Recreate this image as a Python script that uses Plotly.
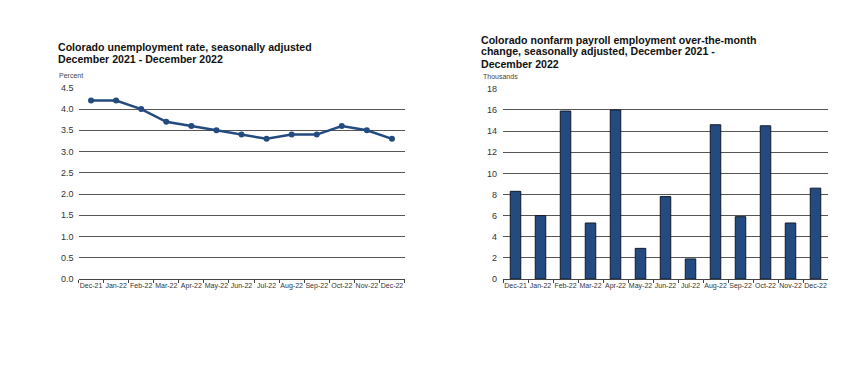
import plotly.graph_objects as go

months = ["Dec-21", "Jan-22", "Feb-22", "Mar-22", "Apr-22", "May-22", "Jun-22",
          "Jul-22", "Aug-22", "Sep-22", "Oct-22", "Nov-22", "Dec-22"]
unemployment_rate = [4.2, 4.2, 4.0, 3.7, 3.6, 3.5, 3.4, 3.3, 3.4, 3.4, 3.6, 3.5, 3.3]
payroll_change = [8.3, 6.0, 15.9, 5.3, 16.0, 2.9, 7.8, 1.9, 14.6, 5.9, 14.5, 5.3, 8.6]
left_yticks = [0.0, 0.5, 1.0, 1.5, 2.0, 2.5, 3.0, 3.5, 4.0, 4.5]
right_yticks = [0, 2, 4, 6, 8, 10, 12, 14, 16, 18]
left_title = ["Colorado unemployment rate, seasonally adjusted",
              "December 2021 - December 2022"]
right_title = ["Colorado nonfarm payroll employment over-the-month",
               "change, seasonally adjusted, December 2021 -",
               "December 2022"]

# page body has an 8px margin; compensate so screen coordinates match
OFF = 8
W, H = 840, 349
navy = "#234b7f"
font = "Liberation Sans, Arial, sans-serif"

def px(x):
    return (x - OFF) / W

def py(y):
    return 1 - (y - OFF) / H

fig = go.Figure()
fig.add_trace(go.Scatter(x=months, y=unemployment_rate, mode="lines+markers",
                         line=dict(color=navy, width=2.5),
                         marker=dict(color=navy, size=6),
                         xaxis="x", yaxis="y", showlegend=False))
fig.add_trace(go.Bar(x=months, y=payroll_change,
                     marker=dict(color=navy, line=dict(color="#111a2a", width=1)),
                     xaxis="x2", yaxis="y2", showlegend=False))

common_x = dict(type="category", showgrid=False, showline=True, linecolor="#444",
                linewidth=1, ticks="outside", tickson="boundaries", ticklen=3,
                tickcolor="#444", tickangle=0, automargin=False,
                range=[-0.5, len(months) - 0.5],
                tickfont=dict(family=font, size=7, color="#333"),
                fixedrange=True)
common_y = dict(showgrid=True, gridcolor="#555", gridwidth=1, zeroline=False,
                showline=False, automargin=False,
                tickfont=dict(family=font, size=9, color="#333"),
                ticks="", fixedrange=True)

annotations = []
for i, line in enumerate(left_title):
    annotations.append(dict(text=f"<b>{line}</b>", x=px(56), y=py(46.5 + 12.5 * i),
                            xref="paper", yref="paper", xanchor="left", yanchor="middle",
                            showarrow=False, font=dict(family=font, size=10.6, color="#111")))
for i, line in enumerate(right_title):
    annotations.append(dict(text=f"<b>{line}</b>", x=px(479), y=py(39.5 + 12 * i),
                            xref="paper", yref="paper", xanchor="left", yanchor="middle",
                            showarrow=False, font=dict(family=font, size=10.6, color="#111")))
annotations.append(dict(text="Percent", x=px(57), y=py(75), xref="paper", yref="paper",
                        xanchor="left", yanchor="middle", showarrow=False,
                        font=dict(family=font, size=7, color="#444")))
annotations.append(dict(text="Thousands", x=px(481), y=py(76), xref="paper", yref="paper",
                        xanchor="left", yanchor="middle", showarrow=False,
                        font=dict(family=font, size=7, color="#444")))

fig.update_layout(
    width=W, height=H, margin=dict(l=0, r=0, t=0, b=0),
    paper_bgcolor="white", plot_bgcolor="white",
    bargap=0.58,
    xaxis=dict(domain=[px(78.5), px(404.5)], anchor="y", **common_x),
    yaxis=dict(domain=[py(279), py(87)], anchor="x", range=[0, 4.52],
               tickvals=left_yticks, ticktext=[f"{v:.1f}" for v in left_yticks],
               ticklabelstandoff=4, **common_y),
    xaxis2=dict(domain=[px(503), px(828)], anchor="y2", **common_x),
    yaxis2=dict(domain=[py(279), py(88)], anchor="x2", range=[0, 18.08],
                tickvals=right_yticks, ticktext=[str(v) for v in right_yticks],
                ticklabelstandoff=5, **common_y),
    annotations=annotations,
)

fig.write_html("out.html")
